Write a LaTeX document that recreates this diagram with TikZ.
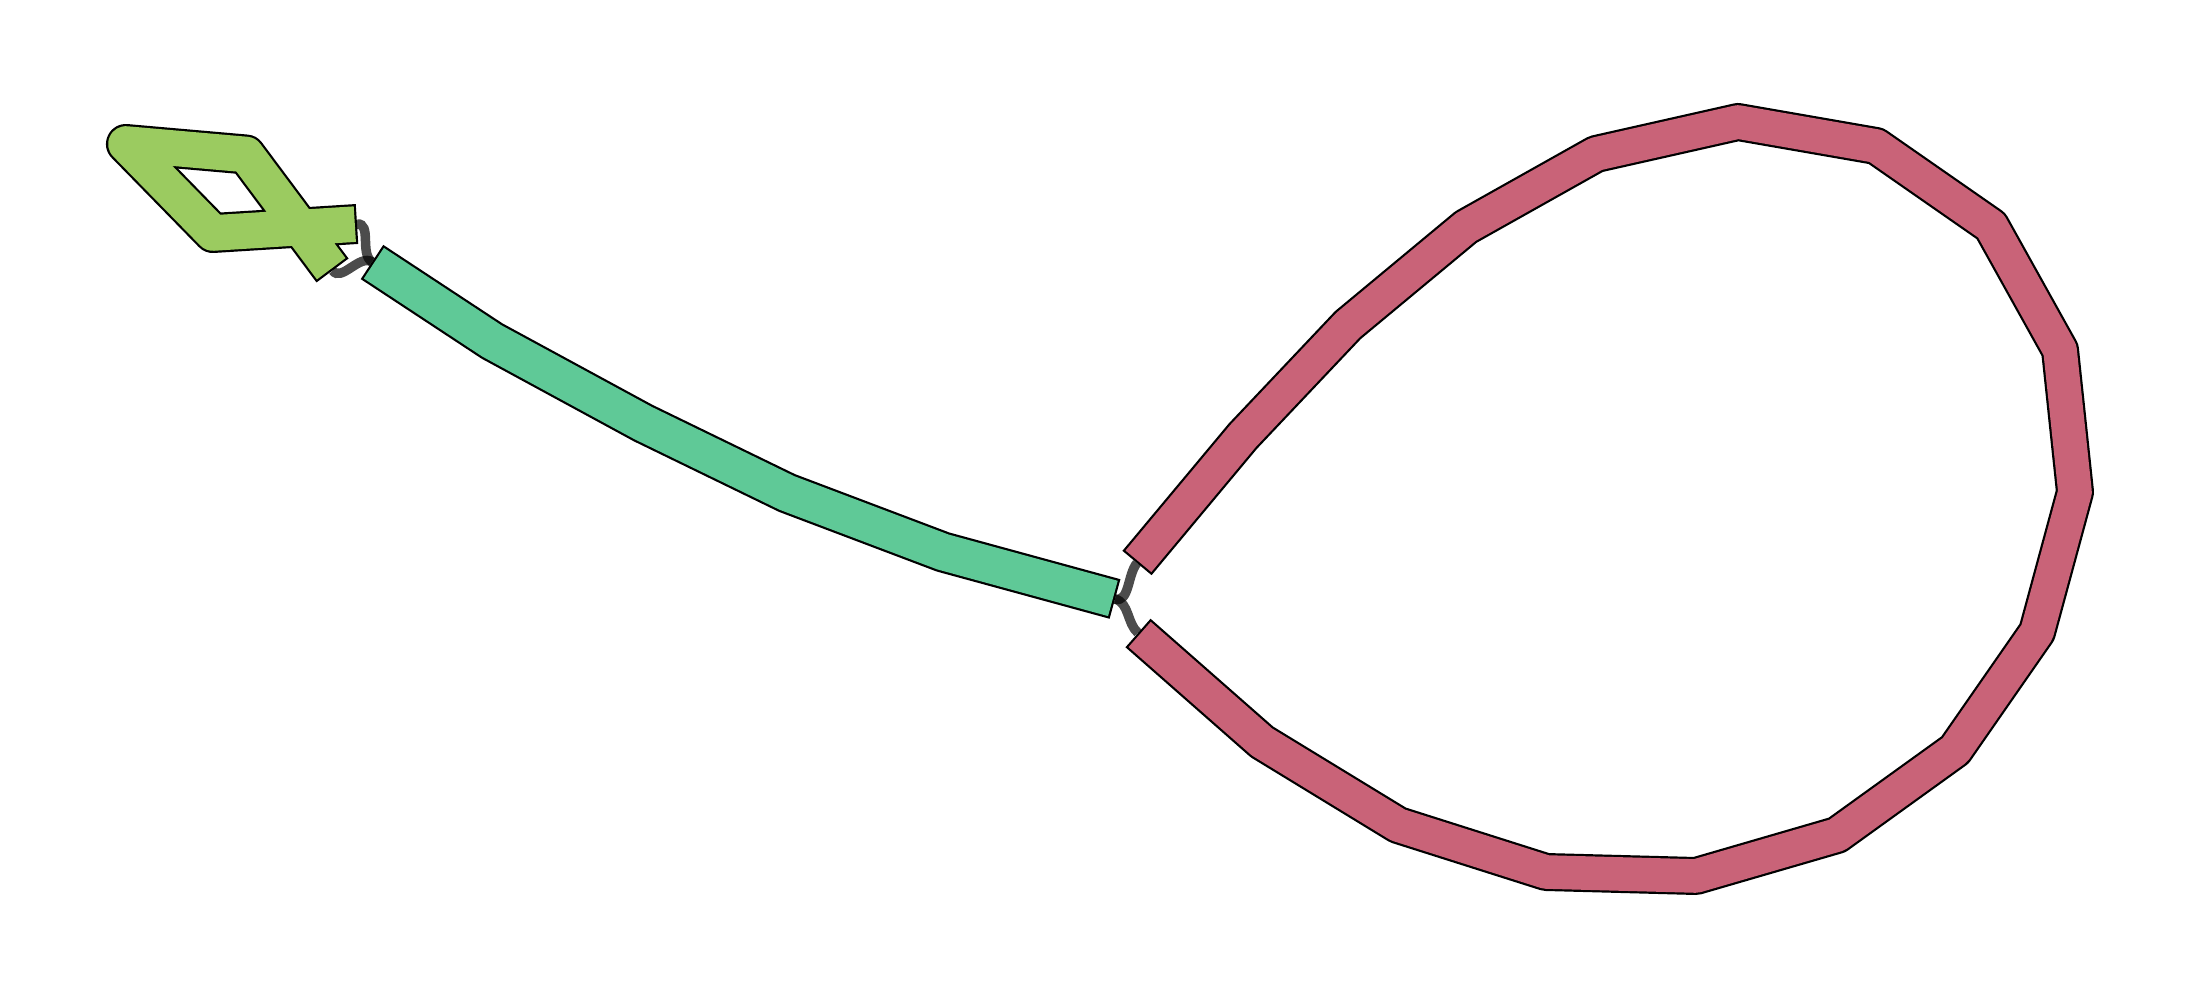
\documentclass[tikz,border=0pt]{standalone}
\usepackage{tikz}

\definecolor{greenseg}{HTML}{9BCB60}
\definecolor{tealseg}{HTML}{5FC997}
\definecolor{redseg}{HTML}{C96378}

\begin{document}
\begin{tikzpicture}[
    x=1pt, y=-1pt,
    link/.style={line width=9.5pt, black, opacity=0.7},
    rim/.style={line width=#1, black, line join=round},
    body/.style={line width=#1, line join=round, shorten <=2.2pt, shorten >=2.2pt}
]
    \useasboundingbox (0,0) rectangle (2198,1000);

    % contig ends
    \coordinate (gA) at (332.5,270.5);
    \coordinate (gB) at (357,224);
    \coordinate (tA) at (372,262);
    \coordinate (tB) at (1115,599);
    \coordinate (rA) at (1137,563);
    \coordinate (rB) at (1138,633);

    % links
    \draw[link] (gB) .. controls +(15,-1) and +(-12.5,-8.3) .. (tA);
    \draw[link] (gA) .. controls +(9,12) and +(-12.5,-8.3) .. (tA);
    \draw[link] (tB) .. controls +(14.5,4) and +(-9.6,11.5) .. (rA);
    \draw[link] (tB) .. controls +(14.5,4) and +(-11.3,-9.9) .. (rB);

    % green contig
    \draw[rim=40pt] (gA) -- (246,154.5) -- (126,144) -- (213,233) -- (gB);
    \draw[body=35.6pt, greenseg] (gA) -- (246,154.5) -- (126,144) -- (213,233) -- (gB);

    % teal contig
    \draw[rim=41pt] (tA) -- (492,341) -- (643,423) -- (787,493) -- (943,552) -- (tB);
    \draw[body=36.6pt, tealseg] (tA) -- (492,341) -- (643,423) -- (787,493) -- (943,552) -- (tB);

    % red loop
    \draw[rim=38pt] (rA) -- (1243,436) -- (1348,325) -- (1466,227) -- (1596,154)
        -- (1738,122) -- (1876,146) -- (1991,226) -- (2060,350) -- (2075,492)
        -- (2037,632) -- (1955,750) -- (1837,835) -- (1696,876) -- (1546,872)
        -- (1398,825) -- (1262,742) -- (rB);
    \draw[body=33.6pt, redseg] (rA) -- (1243,436) -- (1348,325) -- (1466,227) -- (1596,154)
        -- (1738,122) -- (1876,146) -- (1991,226) -- (2060,350) -- (2075,492)
        -- (2037,632) -- (1955,750) -- (1837,835) -- (1696,876) -- (1546,872)
        -- (1398,825) -- (1262,742) -- (rB);
\end{tikzpicture}
\end{document}
